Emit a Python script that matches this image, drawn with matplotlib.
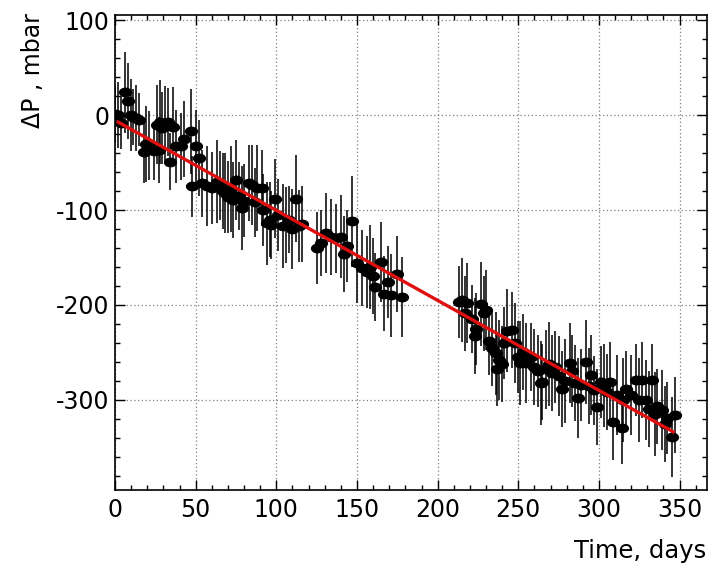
import matplotlib
matplotlib.use('Agg')
import matplotlib.pyplot as plt
from matplotlib.path import Path
from matplotlib.ticker import MultipleLocator

plt.rcParams['font.family'] = ['DejaVu Sans']
plt.rcParams['axes.unicode_minus'] = False

# dias de medicion
days = [
    0, 2, 4, 6, 8, 10, 11, 13, 15, 18,
    19, 21, 24, 26, 27, 28, 29, 31, 33, 34,
    36, 38, 41, 43, 47, 48, 50, 52, 54, 57,
    60, 63, 65, 67, 68, 70, 72, 73, 75, 77,
    79, 80, 83, 85, 87, 88, 91, 92, 94, 96,
    97, 99, 101, 104, 106, 108, 110, 112, 114, 116,
    125, 128, 131, 134, 137, 140, 142, 144, 147, 150,
    153, 156, 158, 160, 161, 165, 167, 169, 171, 175,
    178,
    213, 215, 217, 218, 221, 223, 224, 227, 229, 230,
    232, 234, 236, 237, 238, 240, 241, 243, 246, 248,
    250, 251, 253, 255, 258, 260, 262, 264, 265, 267,
    269, 271, 273, 275, 277, 279, 282, 283, 285, 287,
    289, 292, 294, 295, 297, 299, 301, 303, 305, 307,
    309, 311, 314, 315, 317, 320, 323, 325, 327, 329,
    331, 333, 335, 336, 339, 341, 342, 345, 347]

# diferencia de presion (mbar)
dp = [
    1, 0, -8, 24, 15, 0, -2, -3, -5, -39,
    -30, -32, -38, -10, -37, -7, -14, -9, -7, -49,
    -12, -33, -33, -25, -17, -75, -33, -45, -72, -75,
    -77, -70, -74, -80, -82, -86, -78, -89, -68, -85,
    -98, -90, -72, -74, -92, -77, -77, -100, -114, -110,
    -116, -88, -105, -117, -116, -110, -120, -88, -117, -115,
    -140, -135, -124, -128, -130, -128, -146, -138, -112, -156,
    -161, -165, -160, -170, -181, -155, -188, -176, -190, -167,
    -192,
    -197, -195, -209, -198, -215, -233, -225, -199, -209, -205,
    -238, -245, -251, -268, -258, -262, -240, -227, -226, -240,
    -255, -261, -250, -261, -255, -265, -270, -282, -281, -268,
    -262, -272, -265, -275, -289, -280, -261, -270, -282, -298,
    -284, -260, -285, -274, -290, -308, -281, -285, -292, -281,
    -323, -295, -330, -300, -289, -295, -279, -300, -279, -300,
    -310, -279, -315, -307, -311, -325, -319, -339, -316]

# errores
err = [
    30, 35, 28, 43, 40, 38, 30, 35, 28, 32,
    40, 36, 30, 42, 35, 44, 38, 40, 36, 30,
    42, 38, 35, 40, 45, 32, 38, 40, 35, 42,
    38, 44, 36, 40, 42, 38, 45, 40, 42, 36,
    44, 38, 40, 42, 36, 45, 40, 38, 44, 40,
    36, 42, 38, 44, 40, 35, 42, 46, 38, 40,
    38, 35, 42, 40, 36, 44, 40, 38, 48, 42,
    40, 38, 44, 40, 36, 42, 40, 38, 44, 40,
    42,
    38, 44, 40, 42, 36, 40, 38, 44, 40, 42,
    36, 40, 44, 38, 42, 40, 38, 44, 40, 42,
    38, 44, 40, 42, 36, 40, 38, 44, 40, 42,
    44, 40, 38, 42, 40, 44, 42, 38, 40, 42,
    38, 44, 40, 42, 36, 40, 38, 44, 40, 42,
    40, 42, 38, 44, 40, 42, 38, 44, 40, 42,
    40, 38, 44, 40, 42, 40, 38, 42, 40]

# recta de ajuste (extremos)
fit_days = [2, 346]
fit_dp = [-7.4, -333.7]

fig = plt.figure(figsize=(7.1, 5.66), dpi=100)
ax = fig.add_axes([0.162, 0.1343, 0.8338, 0.8392])

ax.grid(True, color='0.5', linestyle=(0, (1, 2)), linewidth=0.9)
ax.set_axisbelow(True)

ax.errorbar(days, dp, yerr=err, fmt='none', ecolor='black', elinewidth=1.4, alpha=0.8)
circ = Path.unit_circle()
elipse = Path(circ.vertices * [1.4, 1.0], circ.codes)
ax.plot(days, dp, ls='none', marker=elipse, ms=8.5, color='black')

ax.plot(fit_days, fit_dp, color='#e01010', lw=2.4)

ax.set_xlim(0, 367)
ax.set_ylim(-395, 105.5)
ax.xaxis.set_major_locator(MultipleLocator(50))
ax.xaxis.set_minor_locator(MultipleLocator(10))
ax.yaxis.set_major_locator(MultipleLocator(100))
ax.yaxis.set_minor_locator(MultipleLocator(20))
ax.tick_params(which='both', direction='in', top=True, right=True, labelsize=17, width=1.0)
ax.tick_params(which='major', length=7)
ax.tick_params(axis='x', which='major', pad=6)
ax.tick_params(axis='y', which='major', pad=4)
ax.tick_params(which='minor', length=3.5)
for s in ax.spines.values():
    s.set_linewidth(1.2)

fig.text(0.046, 1 - 13 / 566, '\u0394P , mbar', rotation=90, ha='center', va='top', fontsize=17)
fig.text(706 / 710, 1 - 551 / 566, 'Time, days', ha='right', va='center', fontsize=17.5)

fig.savefig('out.png', dpi=100)
